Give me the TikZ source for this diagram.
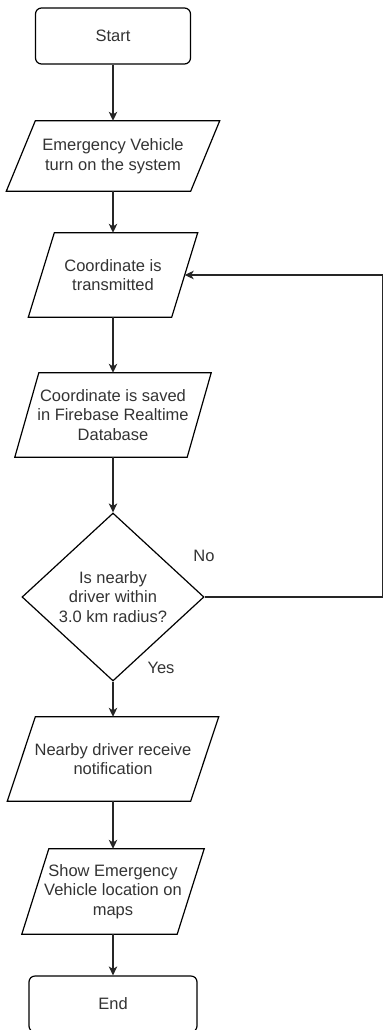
\documentclass[tikz,border=0pt]{standalone}
\usepackage{fontspec}
\setmainfont{Liberation Sans}
\usetikzlibrary{shapes.geometric, arrows.meta, positioning}

\begin{document}
\begin{tikzpicture}[x=1pt, y=-1pt,
    every node/.style={font=\fontsize{16.5}{19.5}\selectfont, text=black!80, align=center},
    term/.style={draw, rounded corners=6pt, line width=1.2pt, minimum height=56pt},
    io/.style={rectangle, inner sep=2pt},
    decision/.style={draw, diamond, line width=1.2pt, inner sep=0pt},
    flow/.style={-{Stealth[length=9pt, width=8.5pt, inset=2.5pt]}, line width=1.2pt, draw=black!85}]
    \useasboundingbox (0,0) rectangle (383,1030);

    % Start and end
    \node[term, minimum width=155pt] (start) at (113,36) {Start};
    \node[term, minimum width=168pt] (stop) at (113,1004) {End};

    % Input / output steps (box = middle line of the parallelogram)
    \node[io, minimum width=184pt, minimum height=70pt] (turnon) at (113,156)
        {Emergency Vehicle\\turn on the system};
    \node[io, minimum width=143pt, minimum height=84pt] (transmit) at (113,275)
        {Coordinate is\\transmitted};
    \node[io, minimum width=172pt, minimum height=84pt] (save) at (113,415)
        {Coordinate is saved\\in Firebase Realtime\\Database};
    \node[io, minimum width=183pt, minimum height=84pt] (notify) at (113,759)
        {Nearby driver receive\\notification};
    \node[io, minimum width=155pt, minimum height=85pt] (showmap) at (113,891.5)
        {Show Emergency\\Vehicle location on\\maps};

    % Slanted outlines
    \foreach \n/\s in {turnon/29, transmit/26, save/24, notify/28, showmap/27}
        \draw[line width=1.2pt] ([xshift=\s/2]\n.north west) -- ([xshift=\s/2]\n.north east)
            -- ([xshift=-\s/2]\n.south east) -- ([xshift=-\s/2]\n.south west) -- cycle;

    % Decision
    \node[decision, minimum width=182pt, minimum height=168pt] (nearby) at (113,597)
        {Is nearby\\driver within\\3.0 km radius?};
    \node (no) at (204,556) {No};
    \node (yes) at (161,668) {Yes};

    % Main flow
    \foreach \a/\b in {start/turnon, turnon/transmit, transmit/save, save/nearby,
        nearby/notify, notify/showmap, showmap/stop}
        \draw[flow] (\a) -- (\a |- \b.north);

    % Loop back when no driver is near
    \coordinate (loopR) at (382.5,597);
    \draw[flow] (nearby.east) -- (loopR) |- (transmit.east);
\end{tikzpicture}
\end{document}
